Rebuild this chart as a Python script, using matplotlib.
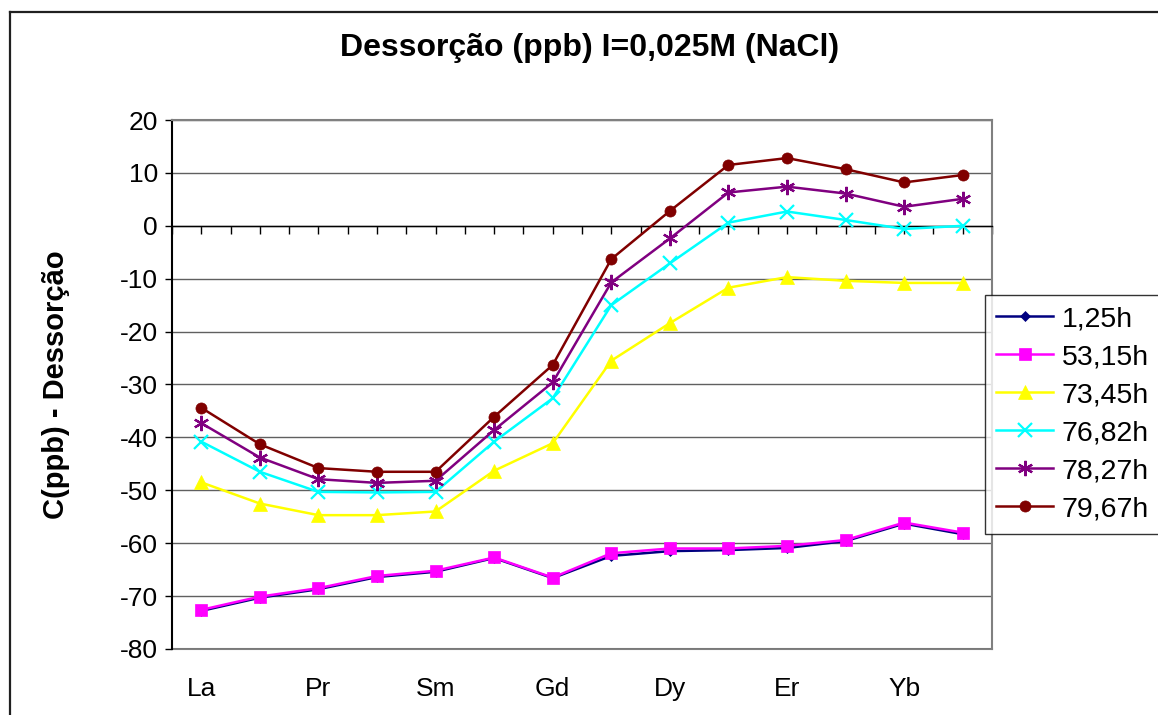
import matplotlib
matplotlib.use("Agg")
import matplotlib.pyplot as plt
from matplotlib.lines import Line2D

plt.rcParams['font.family'] = ['Liberation Sans', 'DejaVu Sans']
plt.rcParams['axes.unicode_minus'] = False

elements = ["La", "Ce", "Pr", "Nd", "Sm", "Eu", "Gd", "Tb", "Dy", "Ho", "Er", "Tm", "Yb", "Lu"]
tick_labels = ["La", "Pr", "Sm", "Gd", "Dy", "Er", "Yb"]

s_1_25h = [-72.8, -70.3, -68.7, -66.4, -65.4, -62.8, -66.6, -62.4, -61.5, -61.3, -60.9, -59.6, -56.3, -58.3]
s_53_15h = [-72.6, -70.1, -68.5, -66.2, -65.2, -62.7, -66.5, -61.9, -61.0, -61.0, -60.5, -59.4, -56.1, -58.0]
s_73_45h = [-48.5, -52.5, -54.7, -54.7, -54.0, -46.3, -41.1, -25.5, -18.4, -11.7, -9.7, -10.4, -10.8, -10.8]
s_76_82h = [-40.8, -46.5, -50.3, -50.4, -50.3, -40.8, -32.6, -15.0, -7.1, 0.6, 2.7, 1.1, -0.6, 0.0]
s_78_27h = [-37.3, -43.8, -47.9, -48.6, -48.2, -38.6, -29.6, -10.7, -2.4, 6.3, 7.4, 6.1, 3.6, 5.1]
s_79_67h = [-34.4, -41.3, -45.8, -46.5, -46.5, -36.1, -26.3, -6.3, 2.8, 11.5, 12.8, 10.7, 8.2, 9.6]

series_names = ["1,25h", "53,15h", "73,45h", "76,82h", "78,27h", "79,67h"]
series_values = [s_1_25h, s_53_15h, s_73_45h, s_76_82h, s_78_27h, s_79_67h]
colors = ["#000080", "#FF00FF", "#FFFF00", "#00FFFF", "#800080", "#800000"]
markers = ["D", "s", "^", "x", (6, 2, 0), "o"]
msizes = [5.5, 8, 10, 9.5, 11, 8]

W, H = 1158, 715
fig = plt.figure(figsize=(W / 100, H / 100), dpi=100)

# outer chart border
fig.add_artist(Line2D([10 / W, 10 / W], [0, 1 - 12 / H], transform=fig.transFigure, color="#202020", lw=1.6))
fig.add_artist(Line2D([10 / W, 1], [1 - 12 / H, 1 - 12 / H], transform=fig.transFigure, color="#202020", lw=1.6))

left, right, top, bottom = 172, 992, 120, 649
ax = fig.add_axes([left / W, 1 - bottom / H, (right - left) / W, (bottom - top) / H])

x = list(range(len(elements)))
for name, vals, c, m, ms in zip(series_names, series_values, colors, markers, msizes):
    mew = 1.6 if m in ("x", (6, 2, 0)) else 0.5
    ax.plot(x, vals, color=c, lw=1.8, marker=m, markersize=ms, markeredgewidth=mew,
            markerfacecolor=c, markeredgecolor=c, label=name, zorder=3)

ax.set_xlim(-0.5, 13.5)
ax.set_ylim(-80, 20)
ax.set_yticks(range(-80, 21, 10))
ax.tick_params(axis='y', labelsize=19, length=5, width=1, direction='out', pad=5)
ax.yaxis.grid(True, color="#606060", lw=1.0)
ax.set_axisbelow(True)

# x-axis at zero with ticks
ax.spines['bottom'].set_position(('data', 0))
ax.spines['bottom'].set_color('black')
ax.spines['bottom'].set_linewidth(1.0)
ax.set_xticks(x)
ax.set_xticks([i - 0.5 for i in range(len(elements) + 1)], minor=True)
ax.tick_params(axis='x', which='both', length=6, width=1, direction='out', labelbottom=False)

ax.spines['left'].set_color('black')
ax.spines['left'].set_linewidth(1.5)
for sp in ('top', 'right'):
    ax.spines[sp].set_color('#808080')
    ax.spines[sp].set_linewidth(1.5)

sec = ax.secondary_xaxis(0.0)
sec.set_xticks(x[::2])
sec.set_xticklabels(tick_labels)
sec.tick_params(length=0, labelsize=19, pad=20)
sec.spines['bottom'].set_color('#808080')
sec.spines['bottom'].set_linewidth(1.5)

ax.set_ylabel("C(ppb) - Dessorção", fontsize=21, fontweight='bold')
ax.yaxis.set_label_coords(-0.125, 0.5)

fig.text(590 / W, 1 - 48 / H, "Dessorção (ppb) I=0,025M (NaCl)", ha='center', va='center',
         fontsize=23, fontweight='bold')

leg = ax.legend(loc='upper left', bbox_to_anchor=(985 / W, 1 - 295 / H),
                bbox_transform=fig.transFigure, fontsize=20.5, frameon=True, fancybox=False,
                edgecolor='black', handlelength=2.0, handletextpad=0.3, labelspacing=0.42,
                borderpad=0.4, borderaxespad=0)
leg.get_frame().set_linewidth(1.0)

fig.savefig("out.png", dpi=100)
